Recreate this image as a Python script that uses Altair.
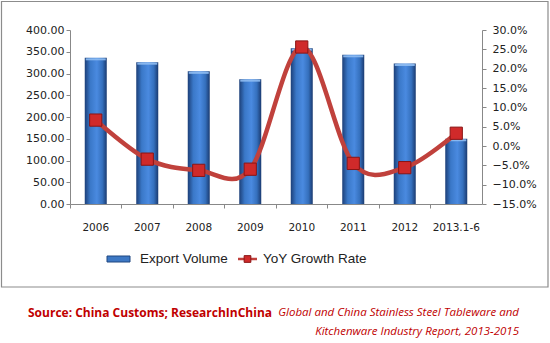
import altair as alt
import pandas as pd

years = ["2006", "2007", "2008", "2009", "2010", "2011", "2012", "2013.1-6"]
export_volume = [336, 326, 305, 287, 358, 343, 323, 150]
yoy_growth = [0.067, -0.034, -0.063, -0.060, 0.256, -0.045, -0.056, 0.033]

df = pd.DataFrame({"year": years, "export": export_volume, "yoy": yoy_growth})

W, H = 412, 174
PL, PT = 70, 30

x_enc = alt.X(
    "year:N", sort=years, title=None,
    scale=alt.Scale(type="band", paddingInner=0, paddingOuter=0),
    axis=alt.Axis(bandPosition=0, labelAngle=0, labelFont="DejaVu Sans",
                  labelFontSize=10.5, labelColor="#222", labelPadding=14, tickSize=4,
                  tickColor="#888", domainColor="#888", grid=False),
)

bar_grad = alt.Gradient(
    gradient="linear", x1=0, x2=1, y1=0, y2=0,
    stops=[alt.GradientStop(color="#1c3f78", offset=0),
           alt.GradientStop(color="#3a78c8", offset=0.25),
           alt.GradientStop(color="#4a8ae0", offset=0.55),
           alt.GradientStop(color="#3570bd", offset=0.8),
           alt.GradientStop(color="#1a3a70", offset=1)],
)

y1 = alt.Y("export:Q", title=None,
           scale=alt.Scale(domain=[0, 400]),
           axis=alt.Axis(values=[0, 50, 100, 150, 200, 250, 300, 350, 400], format=".2f",
                         labelFont="DejaVu Sans", labelFontSize=11, labelColor="#222",
                         tickSize=4, tickColor="#888", domainColor="#888", grid=False,
                         labelPadding=2))

bars = alt.Chart(df).mark_bar(width=22, color=bar_grad).encode(x=x_enc, y=y1)
caps = alt.Chart(df).mark_tick(color="#8fbdf2", thickness=2, size=20, opacity=0.9, yOffset=1.5).encode(
    x=alt.X("year:N", sort=years), y=y1)
left = alt.layer(bars, caps)

y2 = alt.Y("yoy:Q", title=None,
           scale=alt.Scale(domain=[-0.15, 0.30]),
           axis=alt.Axis(orient="right", values=[-0.15, -0.10, -0.05, 0, 0.05, 0.10, 0.15, 0.20, 0.25, 0.30],
                         format=".1%", labelFont="DejaVu Sans", labelFontSize=11, labelColor="#222",
                         tickSize=4, tickColor="#888", domainColor="#888", grid=False,
                         labelPadding=6))

line = alt.Chart(df).mark_line(color="#c0413c", strokeWidth=4.5, interpolate="cardinal", tension=0).encode(
    x=alt.X("year:N", sort=years), y=y2)
pts = alt.Chart(df).mark_point(shape="square", size=150, filled=True, fill="#d02a2a",
                               stroke="#8a1515", strokeWidth=1, opacity=1).encode(
    x=alt.X("year:N", sort=years), y=y2)

right = alt.layer(line, pts)

one = pd.DataFrame({"k": [0]})

border = alt.Chart(one).mark_rect(fill=None, stroke="#8c8c8c", strokeWidth=1.2).encode(
    x=alt.value(1 - PL + 0.5), x2=alt.value(548 - PL), y=alt.value(1 - PT + 0.5), y2=alt.value(287 - PT))

ly = 259 - PT
leg_bar = alt.Chart(one).mark_rect(color="#3d78c4", stroke="#1f4680", strokeWidth=1).encode(
    x=alt.value(107 - PL), x2=alt.value(130 - PL), y=alt.value(ly - 3), y2=alt.value(ly + 3))
leg_bar_txt = alt.Chart(one).mark_text(text="Export Volume", font="Liberation Sans", fontSize=13.5,
                                       align="left", baseline="middle", color="#222").encode(
    x=alt.value(140 - PL), y=alt.value(ly))
leg_line = alt.Chart(one).mark_rule(color="#c0413c", strokeWidth=2.5).encode(
    x=alt.value(238 - PL), x2=alt.value(257 - PL), y=alt.value(ly))
leg_pt = alt.Chart(one).mark_point(shape="square", size=45, filled=True, fill="#d02a2a",
                                   stroke="#8a1515", strokeWidth=1, opacity=1).encode(
    x=alt.value(247.5 - PL), y=alt.value(ly))
leg_line_txt = alt.Chart(one).mark_text(text="YoY Growth Rate", font="Liberation Sans", fontSize=13.5,
                                        align="left", baseline="middle", color="#222").encode(
    x=alt.value(263 - PL), y=alt.value(ly))

src = alt.Chart(one).mark_text(text="Source: China Customs; ResearchInChina", font="Open Sans",
                               fontWeight="bold", fontSize=12, align="left", baseline="middle",
                               color="#c00000").encode(x=alt.value(28 - PL), y=alt.value(313 - PT))
rep1 = alt.Chart(one).mark_text(text="Global and China Stainless Steel Tableware and", font="Open Sans",
                                fontStyle="italic", fontSize=11.5, align="right", baseline="middle",
                                color="#c00000").encode(x=alt.value(519 - PL), y=alt.value(313 - PT))
rep2 = alt.Chart(one).mark_text(text="Kitchenware Industry Report, 2013-2015", font="Open Sans",
                                fontStyle="italic", fontSize=11.5, align="right", baseline="middle",
                                color="#c00000").encode(x=alt.value(519 - PL), y=alt.value(332 - PT))

chart = alt.layer(
    left, right, border, leg_bar, leg_bar_txt, leg_line, leg_pt, leg_line_txt, src, rep1, rep2
).resolve_scale(y="independent").properties(
    width=W, height=H,
    autosize=alt.AutoSizeParams(type="none"),
    padding={"left": PL, "top": PT, "right": 550 - PL - W, "bottom": 343 - PT - H},
    background="white",
).configure_view(stroke=None)

chart.save("out.html", embed_options={"renderer": "svg", "actions": False})
